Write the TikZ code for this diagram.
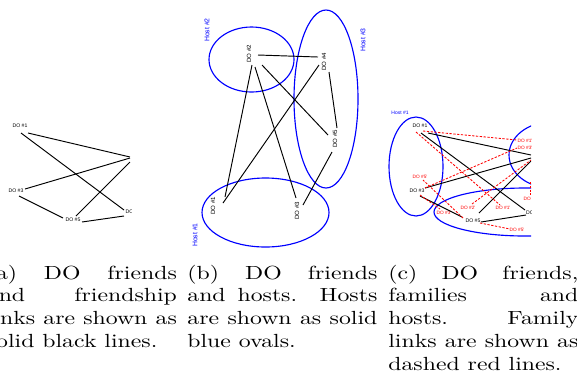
\documentclass[tikz,border=0pt]{standalone}
\usepackage{fontspec}
\usetikzlibrary{shapes.geometric}
\newfontfamily\labfont{Liberation Sans}
\newlength\px \setlength\px{0.52632pt}
\newlength\capw \setlength\capw{80pt}
\newcommand\jl[1]{\makebox[\capw][s]{#1}}
\newcommand\capbox[1]{\scalebox{1.25}[1]{\begin{tabular}[t]{@{}l@{}}#1\end{tabular}}}
\tikzset{
  dolab/.style={inner sep=0, font=\labfont\fontsize{2.7pt}{3pt}\selectfont},
  dorot/.style={inner sep=0, rotate=90, font=\labfont\fontsize{3.2pt}{3.5pt}\selectfont},
  famlab/.style={inner sep=0, text=red, font=\labfont\fontsize{2.5pt}{3pt}\selectfont},
  hostrot/.style={inner sep=0, rotate=90, text=blue, font=\labfont\fontsize{3.6pt}{4pt}\selectfont},
  hostlab/.style={inner sep=0, text=blue, font=\labfont\fontsize{2.6pt}{3pt}\selectfont},
  hostell/.style={draw=blue, line width=0.6pt, ellipse, inner sep=0},
  edge/.style={black, line width=0.5pt},
  fam/.style={red, line width=0.45pt, dash pattern=on 1.2pt off 0.8pt},
  captext/.style={anchor=base west, inner sep=0, font=\fontsize{10pt}{12pt}\selectfont}
}
\begin{document}
\begin{tikzpicture}[x=0.52632pt, y=-0.52632pt]
\useasboundingbox (0,0) rectangle (577,378);
\clip (0,0) rectangle (577,378);

% ---------- (a) ----------
\begin{scope}
\clip (0,90) rectangle (131,245);
\node[dolab] (a1) at (20,126) {DO \#1};
\node[dolab] (a3) at (16,191) {DO \#3};
\node[dolab] (a5) at (73,220) {DO \#5};
\node[dolab] (a4) at (133,212) {DO \#4};
\coordinate (a2) at (141,159);
\draw[edge] ([shift={(8,7)}]a1.center) -- ([shift={(-11,-2)}]a2);
\draw[edge] ([shift={(1,7)}]a1.center) -- ([shift={(-9,-2)}]a4.center);
\draw[edge] ([shift={(9,-2)}]a3.center) -- ([shift={(-11,-1)}]a2);
\draw[edge] ([shift={(3,5)}]a3.center) -- ([shift={(-10,-2)}]a5.center);
\draw[edge] ([shift={(3,-4)}]a5.center) -- ([shift={(-11,3)}]a2);
\draw[edge] ([shift={(9,2)}]a5.center) -- ([shift={(-9,4)}]a4.center);
\end{scope}

% ---------- (b) ----------
\node[hostell, minimum width=85\px, minimum height=65\px] (bh2) at (251.5,59.5) {};
\node[hostell, minimum width=64\px, minimum height=178\px] (bh3) at (326,99) {};
\node[hostell, minimum width=127\px, minimum height=69\px] (bh1) at (265.5,212.5) {};
\node[hostrot] (bl2) at (207,30) {Host \#2};
\node[hostrot] (bl3) at (363,40) {Host \#3};
\node[hostrot] (bl1) at (195,235) {Host \#1};
\node[dorot] (b2) at (249,54) {DO \#2};
\node[dorot] (b4) at (324,62) {DO \#4};
\node[dorot] (b5) at (335,139) {DO \#5};
\node[dorot] (b1) at (213,206) {DO \#1};
\node[dorot] (b3) at (297,211) {DO \#3};
\draw[edge] ([shift={(9,1)}]b2.center) -- ([shift={(-6,-5)}]b4.center);
\draw[edge] ([shift={(5,10)}]b4.center) -- ([shift={(2,-11)}]b5.center);
\draw[edge] ([shift={(13,11)}]b2.center) -- ([shift={(-7,-4)}]b5.center);
\draw[edge] ([shift={(-5,3)}]b4.center) -- ([shift={(10,-3)}]b1.center);
\draw[edge] ([shift={(3,11)}]b2.center) -- ([shift={(12,-9)}]b1.center);
\draw[edge] ([shift={(6,13)}]b2.center) -- ([shift={(-1,-13)}]b3.center);
\draw[edge] ([shift={(-3,13)}]b5.center) -- ([shift={(6,-6)}]b3.center);

% ---------- (c) ----------
\begin{scope}
\clip (380,100) rectangle (531,245);
\node[hostell, minimum width=54\px, minimum height=99\px] (ch1) at (416,166.5) {};
\node[hostell, minimum width=84\px, minimum height=66\px] (ch2) at (551,155) {};
\node[hostell, minimum width=182\px, minimum height=48\px] (ch3) at (525,212) {};
\node[hostlab] (cl1) at (400,113) {Host \#1};
\node[dolab] (c1) at (420,126) {DO \#1};
\node[dolab] (c3) at (417,191) {DO \#3};
\node[dolab] (c5) at (473,221) {DO \#5};
\node[dolab] (c4) at (533.5,213) {DO \#4};
\coordinate (c2) at (541,158);
\node[famlab] (r1a) at (525,141) {DO \#1'};
\node[famlab] (r3a) at (525,148) {DO \#3'};
\node[famlab] (r5a) at (420,177) {DO \#5'};
\node[famlab] (r2a) at (468,208) {DO \#2'};
\node[famlab] (r1b) at (503,208) {DO \#1'};
\node[famlab] (r3b) at (444,213) {DO \#3'};
\node[famlab] (r5b) at (517,230) {DO \#5'};
\node[famlab] (r4) at (531,199) {DO \#4'};
\draw[edge] ([shift={(8,7)}]c1.center) -- ([shift={(-10,-3)}]c2);
\draw[edge] ([shift={(1,7)}]c1.center) -- ([shift={(-8.5,-3)}]c4.center);
\draw[edge] ([shift={(8,-3)}]c3.center) -- ([shift={(-10,0)}]c2);
\draw[edge] ([shift={(3,5)}]c3.center) -- ([shift={(-11,-4)}]c5.center);
\draw[edge] ([shift={(6,-8)}]c5.center) -- ([shift={(-10,3)}]c2);
\draw[edge] ([shift={(8,1)}]c5.center) -- ([shift={(-7.5,2)}]c4.center);
\draw[fam] ([shift={(3,5)}]c1.center) -- ([shift={(-8,-1)}]r1a.center);
\draw[fam] ([shift={(-4,6)}]c1.center) -- ([shift={(-3,-3)}]r1b.center);
\draw[fam] ([shift={(8,-3)}]c3.center) -- ([shift={(-8,0)}]r3a.center);
\draw[fam] ([shift={(3,4)}]c3.center) -- ([shift={(-4,-4)}]r3b.center);
\draw[fam] ([shift={(-10,-3)}]c5.center) -- ([shift={(3,3)}]r5a.center);
\draw[fam] ([shift={(7,2)}]c5.center) -- ([shift={(-7,-1)}]r5b.center);
\draw[fam] ([shift={(4,-4)}]r2a.center) -- ([shift={(-10,2)}]c2);
\draw[fam] ([shift={(-11,24)}]c2) -- ([shift={(-1,-4)}]r4.center);
\end{scope}

% ---------- captions ----------
\node[captext] (capa) at (-13.5,279) {\capbox{\jl{(a) DO friends}\\\jl{and friendship}\\\jl{links are shown as}\\solid black lines.}};
\node[captext] (capb) at (187,279) {\capbox{\jl{(b) DO friends}\\\jl{and hosts. Hosts}\\\jl{are shown as solid}\\blue ovals.}};
\node[captext] (capc) at (388,279) {\capbox{\jl{(c) DO friends,}\\\jl{families and}\\\jl{hosts. Family}\\\jl{links are shown as}\\dashed red lines.}};
\end{tikzpicture}
\end{document}
